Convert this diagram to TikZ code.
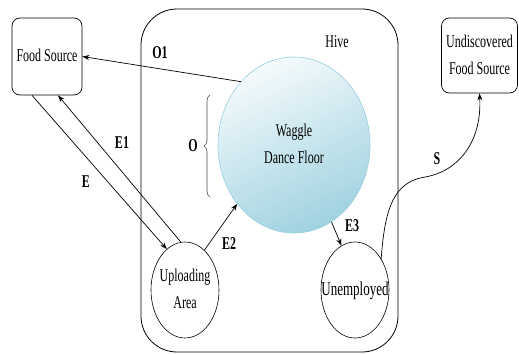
\documentclass[tikz,border=0pt]{standalone}
\usepackage{fontspec}
\setmainfont{Liberation Serif}
\usepackage{graphicx}
\usetikzlibrary{arrows.meta,shapes.geometric,calc,decorations.pathreplacing}
\newcommand{\vs}[1]{\scalebox{1}[1.5]{\begin{tabular}{@{}c@{}}#1\end{tabular}}}
\definecolor{wagtop}{RGB}{244,250,252}
\definecolor{wagbot}{RGB}{160,210,224}
\definecolor{wagline}{RGB}{150,205,222}
\begin{document}
\begin{tikzpicture}[x=1pt,y=-1pt,
  txt/.style={font=\fontsize{12}{18}\selectfont},
  box/.style={draw, rounded corners=8pt, line width=0.7pt, inner sep=0pt, txt},
  circ/.style={draw, ellipse, line width=0.6pt, minimum width=68pt, minimum height=96pt, inner sep=0pt, txt},
  lbl/.style={font=\fontsize{12}{18}\selectfont\bfseries, inner sep=0pt},
  arr/.style={-{Stealth[length=7pt,width=5pt]}, line width=0.7pt}]
\useasboundingbox (0,0) rectangle (519,354);
\node[draw, rounded corners=36pt, line width=0.8pt, minimum width=257pt, minimum height=343pt] (hive) at (269.5,180.5) {};
\node[txt, inner sep=0pt] (hivelbl) at (337,42) {\vs{Hive}};
\node[box, minimum width=70pt, minimum height=77pt] (fs) at (47,56.5) {\vs{Food Source}};
\node[box, minimum width=76pt, minimum height=75pt] (und) at (479.5,55.5) {\vs{Undiscovered\\Food Source}};
\node[ellipse, draw=wagline, line width=0.6pt, top color=wagtop, bottom color=wagbot, shading angle=25, minimum width=152pt, minimum height=176pt, inner sep=0pt, txt] (wag) at (294,145) {\vs{Waggle\\Dance Floor}};
\node[circ] (up) at (185,290) {\makebox[0pt]{\vs{Uploading\\Area}}};
\node[circ, font=\fontsize{13}{18}\selectfont] (un) at (355,290) {\makebox[0pt]{\vs{Unemployed}}};
\draw[decorate, decoration={brace, amplitude=6pt}, gray!60!black, line width=0.6pt] (210,197) -- (210,95);
\node[lbl] (o) at (193,146) {\vs{O}};
\draw[arr] (wag.130) -- (fs.east);
\draw[arr] (up.95) -- ($(fs.south)+(11,0)$);
\draw[arr] ($(fs.south)+(-15,0)$) -- (up.114);
\draw[arr] (up.64) -- (wag.226);
\draw[arr] (wag.-64) -- (un.107);
\draw[arr] (un.50) .. controls (385,205) and (395,182) .. (425,177) .. controls (460,171) and (482,140) .. (und.south);
\node[lbl] (o1) at (160,53) {\vs{O1}};
\node[lbl] (e1) at (122,143) {\vs{E1}};
\node[lbl] (e) at (86,182) {\vs{E}};
\node[lbl] (e2) at (229,244) {\vs{E2}};
\node[lbl] (e3) at (352,226) {\vs{E3}};
\node[lbl] (s) at (437,159) {\vs{S}};
\end{tikzpicture}
\end{document}
